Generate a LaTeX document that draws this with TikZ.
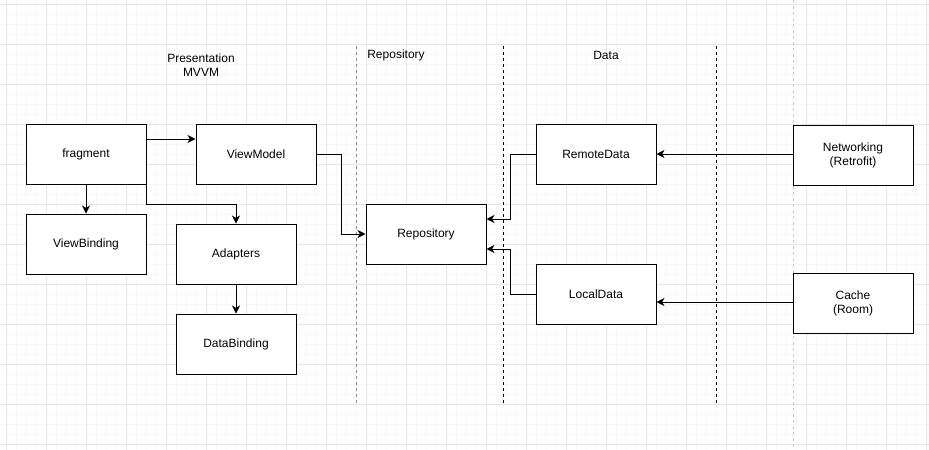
\documentclass[tikz,border=0pt]{standalone}
\usepackage{fontspec}
\setmainfont{Liberation Sans}
\usetikzlibrary{arrows.meta}
\begin{document}
\begin{tikzpicture}[x=0.75pt, y=-0.75pt, font=\fontsize{9}{10.5}\selectfont,
    box/.style={draw, line width=0.75pt, fill=white, minimum width=90pt, minimum height=45pt, inner sep=0pt, align=center},
    conn/.style={line width=0.75pt, -{Stealth[length=6pt, width=6pt, inset=1.8pt]}},
    sep/.style={line width=0.75pt, dash pattern=on 2.25pt off 2.25pt}]
  \useasboundingbox (0,0) rectangle (929,450);
  % grid
  \fill[white] (0,0) rectangle (929,450);
  \foreach \i in {0,...,92} \draw[gray!6, line width=0.75pt] ({6.5+10*\i},0) -- ++(0,450);
  \foreach \i in {0,...,45} \draw[gray!6, line width=0.75pt] (0,{4.5+10*\i}) -- ++(929,0);
  \foreach \i in {0,...,23} \draw[gray!20, line width=0.75pt] ({6.5+40*\i},0) -- ++(0,450);
  \foreach \i in {0,...,11} \draw[gray!20, line width=0.75pt] (0,{4.5+40*\i}) -- ++(929,0);
  \draw[gray!45, line width=0.6pt, dash pattern=on 2.25pt off 2.25pt] (793,0) -- (793,450);
  % layer separators
  \draw[sep, gray!90] (356,46) -- (356,404);
  \draw[sep] (503,46) -- (503,404);
  \draw[sep] (716,46) -- (716,404);
  \node (presentation) at (201,65) [align=center] {Presentation\\MVVM};
  \node (repolabel) at (396,55) {Repository};
  \node (datalabel) at (606,55) {Data};
  % boxes
  \node[box] (fragment) at (86,154) {\raisebox{-1pt}{fragment}};
  \node[box] (viewbinding) at (86,244) {\raisebox{-1pt}{ViewBinding}};
  \node[box] (viewmodel) at (256,154) {\raisebox{-1pt}{ViewModel}};
  \node[box] (adapters) at (236,254) {\raisebox{-1pt}{Adapters}};
  \node[box] (databinding) at (236,344) {\raisebox{-1pt}{DataBinding}};
  \node[box] (repository) at (426,234) {\raisebox{-1pt}{Repository}};
  \node[box] (remotedata) at (596,154) {\raisebox{-1pt}{RemoteData}};
  \node[box] (localdata) at (596,294) {\raisebox{-1pt}{LocalData}};
  \node[box] (networking) at (853,155) {Networking\\(Retrofit)};
  \node[box] (cache) at (853,303) {Cache\\(Room)};
  % connectors
  \draw[conn] ([yshift=11.25pt]fragment.east) -- ([yshift=11.25pt]viewmodel.west);
  \draw[conn] (fragment) -- (viewbinding);
  \draw[conn] (fragment.south east) -- ++(0,20) -| (adapters.north);
  \draw[conn] (adapters) -- (databinding);
  \draw[conn] (viewmodel.east) -- ++(25,0) |- (repository.west);
  \draw[conn] (remotedata.west) -- ++(-25,0) |- ([yshift=11.25pt]repository.east);
  \draw[conn] (localdata.west) -- ++(-25,0) |- ([yshift=-11.25pt]repository.east);
  \draw[conn] (networking.west |- remotedata) -- (remotedata);
  \draw[conn] ([yshift=0.75pt]cache.west) -- ([yshift=0.75pt]localdata.east |- cache.west);
\end{tikzpicture}
\end{document}
